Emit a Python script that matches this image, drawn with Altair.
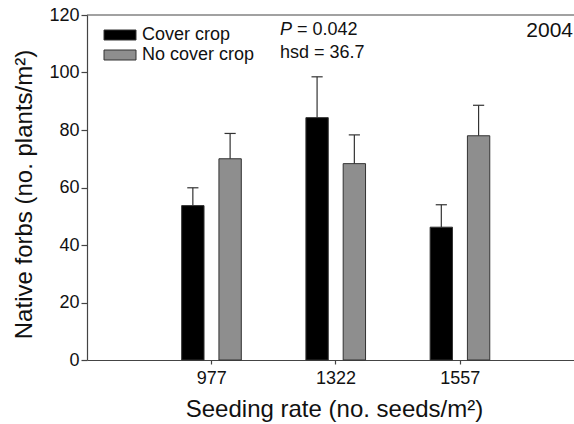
import altair as alt
import pandas as pd

rates = ["977", "1322", "1557"]
treatments = ["Cover crop", "No cover crop"]
cover_mean = [53.7, 84.3, 46.2]
cover_se = [6.2, 14.2, 7.8]
nocover_mean = [70.0, 68.3, 78.0]
nocover_se = [8.8, 10.0, 10.6]
colors = ["#000000", "#8e8e8e"]
ann_p = ["P"]
ann_p_rest = ["= 0.042"]
ann_hsd = ["hsd = 36.7"]
ann_year = ["2004"]

rows = []
for i, r in enumerate(rates):
    rows.append({"idx": i + 1, "rate": r, "trt": treatments[0], "mean": cover_mean[i], "se": cover_se[i]})
    rows.append({"idx": i + 1, "rate": r, "trt": treatments[1], "mean": nocover_mean[i], "se": nocover_se[i]})
df = pd.DataFrame(rows)

FONT = "Liberation Sans"
xscale = alt.Scale(domain=[0, 3.92], nice=False, zero=False)
yscale = alt.Scale(domain=[0, 120], nice=False)

base = alt.Chart(df).transform_calculate(
    center="datum.idx + (datum.trt == 'Cover crop' ? -0.148 : 0.152)"
).transform_calculate(
    x_lo="datum.center - 0.09",
    x_hi="datum.center + 0.09",
    cap_lo="datum.center - 0.045",
    cap_hi="datum.center + 0.045",
    top="datum.mean + datum.se",
)

label_expr = "[" + ",".join("'" + r + "'" for r in rates) + "][datum.value - 1]"

bars = base.mark_bar(stroke="#333333", strokeWidth=1).encode(
    x=alt.X("x_lo:Q", scale=xscale,
            axis=alt.Axis(values=[1, 2, 3], labelExpr=label_expr, grid=False,
                          title="Seeding rate (no. seeds/m²)",
                          tickSize=4, labelPadding=5, titlePadding=10, titleX=247)),
    x2="x_hi:Q",
    y=alt.Y("mean:Q", scale=yscale,
            axis=alt.Axis(values=[0, 20, 40, 60, 80, 100, 120], grid=False,
                          title="Native forbs (no. plants/m²)",
                          tickSize=6, labelPadding=2, titlePadding=12, titleY=179)),
    y2=alt.datum(0),
    color=alt.Color("trt:N", scale=alt.Scale(domain=treatments, range=colors),
                    legend=alt.Legend(orient="none", legendX=24, legendY=11, title=None,
                                      symbolType="M-3.2,-1H3.2V1H-3.2Z", symbolSize=100,
                                      symbolStrokeColor="#333333", symbolStrokeWidth=1,
                                      symbolOpacity=1,
                                      labelFont=FONT, labelFontSize=18, labelColor="#111111",
                                      labelOffset=13, rowPadding=2, padding=0)),
)

err = base.mark_rule(color="#333333", strokeWidth=1.2).encode(
    x="center:Q", y="mean:Q", y2="top:Q"
)
caps = base.mark_rule(color="#333333", strokeWidth=1.2).encode(
    x="cap_lo:Q", x2="cap_hi:Q", y="top:Q"
)

top_line = alt.Chart(pd.DataFrame({"y": [120]})).mark_rule(color="#444444", strokeWidth=1.2).encode(
    y=alt.Y("y:Q", scale=yscale)
)

p_text = alt.Chart(pd.DataFrame({"t": ann_p})).mark_text(
    font=FONT, fontSize=18, fontStyle="italic", align="left", baseline="middle", color="#111111"
).encode(x=alt.value(193), y=alt.value(15), text="t:N")
p_rest = alt.Chart(pd.DataFrame({"t": ann_p_rest})).mark_text(
    font=FONT, fontSize=18, align="left", baseline="middle", color="#111111"
).encode(x=alt.value(210), y=alt.value(15), text="t:N")
hsd_text = alt.Chart(pd.DataFrame({"t": ann_hsd})).mark_text(
    font=FONT, fontSize=18, align="left", baseline="middle", color="#111111"
).encode(x=alt.value(193), y=alt.value(38), text="t:N")
year_text = alt.Chart(pd.DataFrame({"t": ann_year})).mark_text(
    font=FONT, fontSize=21, align="right", baseline="middle", color="#111111"
).encode(x=alt.value(486), y=alt.value(16), text="t:N")

chart = alt.layer(bars, err, caps, top_line, p_text, p_rest, hsd_text, year_text).properties(
    width=487, height=345,
    padding={"left": 87, "top": 15, "right": 0, "bottom": 64},
    autosize=alt.AutoSizeParams(type="none"),
).configure_view(stroke=None).configure_axis(
    labelFont=FONT, titleFont=FONT, labelFontSize=18, titleFontSize=24,
    labelColor="#111111", titleColor="#111111", titleFontWeight="normal",
    domainColor="#444444", tickColor="#444444", domainWidth=1.2, tickWidth=1.2,
)

chart.save("out.html", embed_options={"renderer": "svg", "actions": False})
